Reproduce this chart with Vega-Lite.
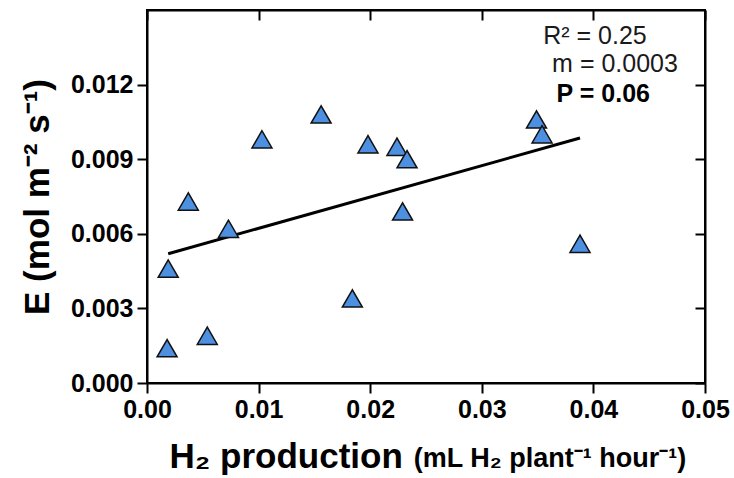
{
  "$schema": "https://vega.github.io/schema/vega-lite/v6.json",
  "width": 558,
  "height": 373,
  "autosize": {"type": "none"},
  "padding": {"left": 147, "top": 10, "right": 29, "bottom": 95},
  "background": "white",
  "config": {
    "view": {"stroke": "black", "strokeWidth": 2},
    "font": "Liberation Sans",
    "axis": {
      "domainColor": "black",
      "domainWidth": 2,
      "tickColor": "black",
      "tickWidth": 2,
      "tickSize": 10,
      "grid": false,
      "labelFlush": false,
      "labelOverlap": false,
      "labelFont": "Liberation Sans",
      "labelFontWeight": "bold",
      "labelFontSize": 25,
      "labelColor": "black",
      "titleFont": "Liberation Sans",
      "titleFontWeight": "bold",
      "titleColor": "black"
    }
  },
  "resolve": {"axis": {"x": "independent", "y": "independent"}},
  "layer": [
    {
      "data": {"values": [
        {"h2": 0.0019, "E": 0.0052},
        {"h2": 0.0388, "E": 0.00985}
      ]},
      "mark": {"type": "line", "color": "black", "strokeWidth": 3},
      "encoding": {
        "x": {"field": "h2", "type": "quantitative",
              "scale": {"domain": [0, 0.05], "nice": false, "zero": false},
              "axis": {"orient": "top", "labels": false, "title": null, "tickSize": -10,
                       "values": [0, 0.01, 0.02, 0.03, 0.04, 0.05]}},
        "y": {"field": "E", "type": "quantitative",
              "scale": {"domain": [0, 0.015], "nice": false, "zero": false},
              "axis": {"orient": "right", "labels": false, "title": null, "tickSize": -10,
                       "values": [0, 0.003, 0.006, 0.009, 0.012]}}
      }
    },
    {
      "data": {"values": [
        {"h2": 0.0018, "E": 0.0014},
        {"h2": 0.0019, "E": 0.0046},
        {"h2": 0.0054, "E": 0.0019},
        {"h2": 0.0037, "E": 0.0073},
        {"h2": 0.0073, "E": 0.0062},
        {"h2": 0.0103, "E": 0.0098},
        {"h2": 0.0156, "E": 0.0108},
        {"h2": 0.0184, "E": 0.0034},
        {"h2": 0.0198, "E": 0.0096},
        {"h2": 0.0224, "E": 0.0095},
        {"h2": 0.0233, "E": 0.0090},
        {"h2": 0.0229, "E": 0.0069},
        {"h2": 0.0349, "E": 0.0106},
        {"h2": 0.0354, "E": 0.0100},
        {"h2": 0.0388, "E": 0.0056}
      ]},
      "mark": {"type": "point", "shape": "triangle-up", "filled": true, "size": 400,
               "fill": "#4d8fe0", "stroke": "#111111", "strokeWidth": 1.5, "opacity": 1},
      "encoding": {
        "x": {"field": "h2", "type": "quantitative",
              "scale": {"domain": [0, 0.05], "nice": false, "zero": false},
              "axis": {"orient": "bottom", "format": ".2f", "values": [0, 0.01, 0.02, 0.03, 0.04, 0.05],
                       "labelPadding": 4,
                       "title": "H₂ production", "titleFontSize": 35,
                       "titleAnchor": "start", "titleAlign": "left", "titleBaseline": "alphabetic",
                       "titleX": 22, "titleY": 84}},
        "y": {"field": "E", "type": "quantitative",
              "scale": {"domain": [0, 0.015], "nice": false, "zero": false},
              "axis": {"orient": "left", "format": ".3f", "values": [0, 0.003, 0.006, 0.009, 0.012],
                       "labelPadding": 4,
                       "title": "E (mol m⁻² s⁻¹)", "titleFontSize": 35,
                       "titleBaseline": "alphabetic", "titleX": -99}}
      }
    },
    {
      "data": {"values": [
        {"h2": 0.0355, "E": 0.01364, "label": "R² = 0.25"},
        {"h2": 0.0363, "E": 0.01252, "label": "m = 0.0003"}
      ]},
      "mark": {"type": "text", "align": "left", "baseline": "alphabetic", "fontSize": 25,
               "font": "Liberation Sans", "color": "#1a1a1a"},
      "encoding": {
        "x": {"field": "h2", "type": "quantitative", "scale": {"domain": [0, 0.05], "nice": false, "zero": false}, "axis": null},
        "y": {"field": "E", "type": "quantitative", "scale": {"domain": [0, 0.015], "nice": false, "zero": false}, "axis": null},
        "text": {"field": "label"}
      }
    },
    {
      "data": {"values": [
        {"h2": 0.0367, "E": 0.01132, "label": "P = 0.06"}
      ]},
      "mark": {"type": "text", "align": "left", "baseline": "alphabetic", "fontSize": 25,
               "fontWeight": "bold", "font": "Liberation Sans", "color": "black"},
      "encoding": {
        "x": {"field": "h2", "type": "quantitative", "scale": {"domain": [0, 0.05], "nice": false, "zero": false}, "axis": null},
        "y": {"field": "E", "type": "quantitative", "scale": {"domain": [0, 0.015], "nice": false, "zero": false}, "axis": null},
        "text": {"field": "label"}
      }
    },
    {
      "data": {"values": [
        {"h2": 0.0239, "E": -0.00336, "label": "(mL H₂ plant⁻¹ hour⁻¹)"}
      ]},
      "mark": {"type": "text", "align": "left", "baseline": "alphabetic", "fontSize": 27,
               "fontWeight": "bold", "font": "Liberation Sans", "color": "black"},
      "encoding": {
        "x": {"field": "h2", "type": "quantitative", "scale": {"domain": [0, 0.05], "nice": false, "zero": false}, "axis": null},
        "y": {"field": "E", "type": "quantitative", "scale": {"domain": [0, 0.015], "nice": false, "zero": false}, "axis": null},
        "text": {"field": "label"}
      }
    }
  ]
}
